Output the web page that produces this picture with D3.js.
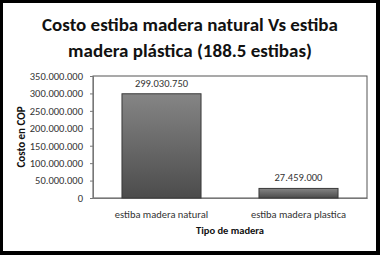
<!DOCTYPE html>
<html>
<head>
<meta charset="utf-8">
<script src="https://cdn.jsdelivr.net/npm/d3@7"></script>
<style>
  body { margin: 0; background: white; }
  text { font-family: Carlito, "Liberation Sans Narrow", Lato, sans-serif; }
</style>
</head>
<body>
<div id="chart"></div>
<script>
const categories = ["estiba madera natural", "estiba madera plastica"];
const values = [299030750, 27459000];
const valueLabels = ["299.030.750", "27.459.000"];
const yTicks = [0, 50000000, 100000000, 150000000, 200000000, 250000000, 300000000, 350000000];
const yTickLabels = ["0", "50.000.000", "100.000.000", "150.000.000", "200.000.000", "250.000.000", "300.000.000", "350.000.000"];
const titleLines = ["Costo estiba madera natural Vs estiba", "madera plástica (188.5 estibas)"];

const width = 380;
const height = 255;
const margin = { top: 76, right: 13, bottom: 57, left: 93 };

const svg = d3.select("#chart")
    .append("svg")
    .attr("width", width)
    .attr("height", height);

// marco negro
svg.append("rect")
    .attr("width", width).attr("height", height)
    .attr("fill", "black");
svg.append("rect")
    .attr("x", 3).attr("y", 3)
    .attr("width", width - 7).attr("height", height - 7)
    .attr("fill", "white");

const defs = svg.append("defs");
const grad = defs.append("linearGradient")
    .attr("id", "barGrad")
    .attr("x1", 0).attr("y1", 0).attr("x2", 0).attr("y2", 1);
grad.append("stop").attr("offset", "0%").attr("stop-color", "#858585");
grad.append("stop").attr("offset", "100%").attr("stop-color", "#4c4c4c");

// titulo
svg.selectAll(".title")
    .data(titleLines)
    .enter()
    .append("text")
    .attr("class", "title")
    .attr("x", 190)
    .attr("y", (d, i) => 31 + i * 26)
    .attr("text-anchor", "middle")
    .attr("font-size", 19)
    .attr("font-weight", "bold")
    .attr("fill", "#111")
    .text(d => d);

const x = d3.scaleBand()
    .domain(categories)
    .range([margin.left, width - margin.right])
    .paddingInner(0.423)
    .paddingOuter(0.2115);

const y = d3.scaleLinear()
    .domain([0, 350000000])
    .range([height - margin.bottom, margin.top]);

// area del grafico
svg.append("rect")
    .attr("x", margin.left)
    .attr("y", margin.top)
    .attr("width", width - margin.left - margin.right)
    .attr("height", height - margin.top - margin.bottom)
    .attr("fill", "none")
    .attr("stroke", "#555")
    .attr("stroke-width", 1);

svg.append("g")
    .attr("transform", `translate(${margin.left},0)`)
    .call(d3.axisLeft(y)
        .tickValues(yTicks)
        .tickFormat((d, i) => yTickLabels[i])
        .tickSize(3)
        .tickPadding(7))
    .call(g => g.select(".domain").attr("stroke", "#777"))
    .call(g => g.selectAll(".tick line").attr("stroke", "#777"))
    .call(g => g.selectAll("text")
        .attr("font-size", 10.5)
        .attr("fill", "#333")
        .style("font-family", "Carlito, 'Liberation Sans Narrow', Lato, sans-serif"));

svg.append("g")
    .attr("transform", `translate(0,${height - margin.bottom})`)
    .call(d3.axisBottom(x)
        .tickSize(0)
        .tickPadding(13))
    .call(g => g.select(".domain").attr("stroke", "#777"))
    .call(g => g.selectAll("text")
        .attr("font-size", 10.5)
        .attr("fill", "#333")
        .style("font-family", "Carlito, 'Liberation Sans Narrow', Lato, sans-serif"));

// barras
svg.selectAll(".bar")
    .data(values)
    .enter()
    .append("rect")
    .attr("class", "bar")
    .attr("x", (d, i) => x(categories[i]))
    .attr("y", d => y(d))
    .attr("width", x.bandwidth())
    .attr("height", d => y(0) - y(d))
    .attr("fill", "url(#barGrad)")
    .attr("stroke", "#3a3a3a")
    .attr("stroke-width", 1);

svg.selectAll(".vlabel")
    .data(values)
    .enter()
    .append("text")
    .attr("class", "vlabel")
    .attr("x", (d, i) => x(categories[i]) + x.bandwidth() / 2)
    .attr("y", d => y(d) - 7)
    .attr("text-anchor", "middle")
    .attr("font-size", 10.5)
    .attr("fill", "#333")
    .text((d, i) => valueLabels[i]);

// titulos de ejes
svg.append("text")
    .attr("x", (margin.left + width - margin.right) / 2)
    .attr("y", 234)
    .attr("text-anchor", "middle")
    .attr("font-size", 10.5)
    .attr("font-weight", "bold")
    .attr("fill", "#111")
    .text("Tipo de madera");

svg.append("text")
    .attr("transform", "translate(25,137) rotate(-90)")
    .attr("text-anchor", "middle")
    .attr("font-size", 11)
    .attr("font-weight", "bold")
    .attr("fill", "#111")
    .text("Costo en COP");
</script>
</body>
</html>
